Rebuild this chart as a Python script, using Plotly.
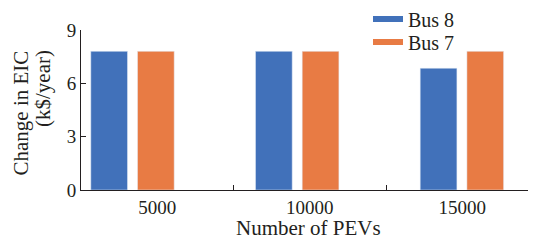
import plotly.graph_objects as go

categories = ["5000", "10000", "15000"]
bus8 = [7.8, 7.8, 6.85]
bus7 = [7.8, 7.8, 7.8]
series_names = ["Bus 8", "Bus 7"]
y_ticks = [0, 3, 6, 9]
y_title_lines = ["Change in EIC", "(k$/year)"]
x_title = "Number of PEVs"

BLUE = "#4171BA"
ORANGE = "#E87B44"
TXT = "#231F20"
FONT = "Liberation Serif"

fig = go.Figure()
fig.add_trace(go.Bar(x=categories, y=bus8, name=series_names[0], marker_color=BLUE,
                     xaxis="x2", showlegend=False))
fig.add_trace(go.Bar(x=categories, y=bus7, name=series_names[1], marker_color=ORANGE,
                     xaxis="x2", showlegend=False))
# legend entries (flat swatches), one legend each for tight spacing
fig.add_trace(go.Scatter(x=[None], y=[None], mode="lines", name=series_names[0],
                         line=dict(color=BLUE, width=6), legend="legend"))
fig.add_trace(go.Scatter(x=[None], y=[None], mode="lines", name=series_names[1],
                         line=dict(color=ORANGE, width=6), legend="legend2"))

# page body has an 8px margin
W, H = 528, 233
ml, mr, mt, mb = 73, 0, 22, 51
pw = W - ml - mr
ph = H - mt - mb
cat_px = 152.5
bar_px = 164.7
first_group_px = 51.5

def py(fig_y):
    return (H - mb - fig_y) / ph

def px(fig_x):
    return (fig_x - ml) / pw

leg_common = dict(xanchor="left", yanchor="middle", bgcolor="rgba(0,0,0,0)",
                  font=dict(size=20, family=FONT, color=TXT), itemwidth=30,
                  borderwidth=0)

ann_font = dict(size=21, family=FONT, color=TXT)

fig.update_layout(
    width=W, height=H,
    margin=dict(l=ml, r=mr, t=mt, b=mb, autoexpand=False),
    paper_bgcolor="white", plot_bgcolor="white",
    font=dict(family=FONT, size=19, color=TXT),
    barmode="group", bargap=0.433, bargroupgap=0.214,
    showlegend=True,
    legend=dict(x=px(360), y=py(11), **leg_common),
    legend2=dict(x=px(360), y=py(34), **leg_common),
    xaxis=dict(
        type="linear", automargin=False,
        range=[-0.5, -0.5 + pw / cat_px],
        tickmode="array", tickvals=[0, 1, 2], ticktext=categories,
        ticks="", showgrid=False, zeroline=False,
        showline=True, linecolor=TXT, linewidth=1,
        minor=dict(tickmode="array", tickvals=[0.5, 1.5], ticks="inside",
                   ticklen=5, tickcolor=TXT, showgrid=False),
        fixedrange=True,
    ),
    xaxis2=dict(
        type="category", overlaying="x",
        range=[-first_group_px / bar_px, -first_group_px / bar_px + pw / bar_px],
        visible=False, showgrid=False,
    ),
    yaxis=dict(
        range=[0, 9], tickvals=y_ticks, automargin=False,
        ticks="inside", ticklen=5, tickcolor=TXT,
        showline=True, linecolor=TXT, linewidth=1,
        showgrid=False, zeroline=False,
    ),
    annotations=[
        dict(text=y_title_lines[0], textangle=-90,
             xref="paper", yref="paper", x=px(12), y=py(105.5),
             xanchor="center", yanchor="middle", showarrow=False, font=ann_font),
        dict(text=y_title_lines[1], textangle=-90,
             xref="paper", yref="paper", x=px(34.5), y=py(80.5),
             xanchor="center", yanchor="middle", showarrow=False, font=ann_font),
        dict(text=x_title, xref="paper", yref="paper", x=0.5, y=py(233),
             xanchor="center", yanchor="bottom", showarrow=False, font=ann_font,
             borderpad=0),
    ],
)

fig.write_html("out.html")
